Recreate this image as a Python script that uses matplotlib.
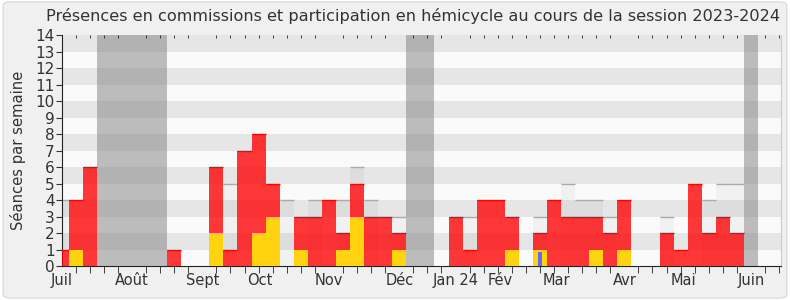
import matplotlib.pyplot as plt
import numpy as np
from matplotlib.patches import FancyBboxPatch

# one value per week, week 0 = first week of July 2023
commissions = [1, 4, 6, 0, 0, 0, 0, 0, 1, 0, 0, 6, 1, 7, 8, 5, 0, 3, 3, 4,
               2, 5, 3, 3, 2, 0, 0, 0, 3, 1, 4, 4, 3, 0, 2, 4, 3, 3, 3, 2,
               4, 0, 0, 2, 1, 5, 2, 3, 2, 0, 0, 0]
hemicycle = [0, 1, 0, 0, 0, 0, 0, 0, 0, 0, 0, 2, 0, 0, 2, 3, 0, 1, 0, 0,
             1, 3, 0, 0, 1, 0, 0, 0, 0, 0, 0, 0, 1, 0, 1, 0, 0, 0, 1, 0,
             1, 0, 0, 0, 0, 0, 0, 0, 0, 0, 0, 0]
mediane = [4, 0, 0, 0, 0, 0, 0, 0, 0, 0, 0, 0, 5, 0, 0, 0, 4, 0, 4, 0,
           4, 6, 4, 0, 3, 0, 0, 0, 0, 3, 0, 0, 0, 0, 3, 0, 5, 4, 4, 3,
           0, 0, 0, 3, 0, 0, 4, 5, 5, 0, 0, 0]
questions = {34: 0.85}
vacances = [(3, 7), (25, 26), (49, 49)]

mois = ["Juil", "Août", "Sept", "Oct", "Nov", "Déc", "Jan 24", "Fév",
        "Mar", "Avr", "Mai", "Juin"]
mois_pos = [0, 5, 10, 14.1, 19, 24, 28, 31.2, 35.2, 40, 44.2, 49]

x = np.arange(len(commissions))
commissions = np.array(commissions)
hemicycle = np.array(hemicycle)
mediane = np.array(mediane)

txt = '#333333'
fig = plt.figure(figsize=(7.9, 3.0), dpi=100)
fig.patch.set_facecolor('white')
fig.patches.append(FancyBboxPatch((0.004, 0.006), 0.992, 0.988,
                                  boxstyle="round,pad=0,rounding_size=0.012",
                                  transform=fig.transFigure, facecolor='#f0f0f0',
                                  edgecolor='#dcdcdc', lw=1, zorder=-10))
ax = fig.add_axes([0.078, 0.113, 0.910, 0.770])
ax.set_facecolor('#fafafa')

# bandes horizontales
for k in range(1, 14, 2):
    ax.axhspan(k, k + 1, color='#e6e6e6', lw=0, zorder=0)

# vacances parlementaires
for a, b in vacances:
    ax.axvspan(a - 0.5, b + 0.5, color='#808080', alpha=0.5, lw=0, zorder=1)

m = mediane > 0
ax.bar(x[m], mediane[m], width=1, color=(0, 0, 0, 0.035), lw=0, zorder=2)
ax.hlines(mediane[m], x[m] - 0.5, x[m] + 0.5, color='#aaaaaa', lw=1, zorder=2)

c = commissions > 0
ax.bar(x[c], commissions[c], width=1, color='#ff0000', alpha=0.78, lw=0, zorder=3)
ax.hlines(commissions[c], x[c] - 0.5, x[c] + 0.5, color='#ff0000', lw=1, zorder=3)

h = hemicycle > 0
ax.bar(x[h], hemicycle[h], width=1, color='#ffd310', lw=0, zorder=4)

for w, v in questions.items():
    ax.bar(w, v, width=0.3, color='#6666ff', lw=0, zorder=5)

ax.set_xlim(0, 51.1)
ax.set_ylim(0, 14)
ax.set_yticks(range(15))
ax.tick_params(axis='y', labelsize=11, colors=txt, length=4, pad=1)
ax.set_xticks(mois_pos, mois)
ax.set_xticks(x, minor=True)
ax.tick_params(axis='x', which='major', length=0, labelsize=10.5, colors=txt, pad=5)
ax.tick_params(axis='x', which='minor', length=5, color='#222222',
               top=True, bottom=True)
ax.tick_params(axis='x', which='minor', top=True, direction='in')
for t in ax.xaxis.get_minor_ticks():
    t.tick2line.set_markersize(2)
    t.tick1line.set_markersize(5)
    t.tick1line.set_marker(3)
ax.spines['top'].set_visible(False)
ax.spines['right'].set_color('#cccccc')
ax.spines['left'].set_color('#222222')
ax.spines['bottom'].set_color('#222222')
ax.set_ylabel("Séances par semaine", fontsize=10.6, color=txt, labelpad=7)

fig.text(0.523, 0.948, "Présences en commissions et participation en hémicycle au cours de la session 2023-2024",
         ha='center', va='center', fontsize=11.6, color=txt)

fig.savefig('out.png', dpi=100)
